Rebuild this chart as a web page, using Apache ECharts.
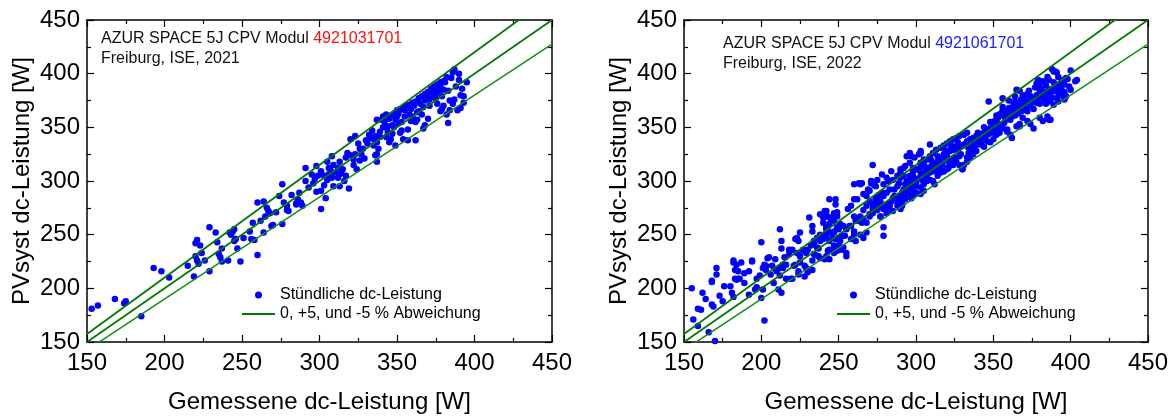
<!DOCTYPE html>
<html>
<head>
<meta charset="utf-8">
<script src="https://cdn.jsdelivr.net/npm/echarts@6/dist/echarts.min.js"></script>
<style>
  html, body { margin: 0; padding: 0; background: #fff; }
  #chart { width: 1173px; height: 419px; }
</style>
</head>
<body>
<div id="chart"></div>
<script>
// Axis range and tick spacing shared by both panels (W)
const axisMin = 150;
const axisMax = 450;
const axisStep = 50;

// Panel headers
const moduleLabel = 'AZUR SPACE 5J CPV Modul ';
const moduleIds = ['4921031701', '4921061701'];
const siteLabels = ['Freiburg, ISE, 2021', 'Freiburg, ISE, 2022'];

const scatterName = 'Stündliche dc-Leistung';
const bandName = '0, +5, und -5 % Abweichung';

// Reference lines: 0 %, +5 %, -5 % deviation (measured -> PVsyst)
const lineZero = [[150, 150], [450, 450]];
const linePlus5 = [[150, 157.5], [450, 472.5]];
const lineMinus5 = [[150, 142.5], [450, 427.5]];

// Hourly dc power 2021: [measured W, PVsyst W]
const hourly2021 = [
  [153,181],[157,184],[168,190],[174,186],[175,188],[185,174],[193,219],[198,216],
  [203,210],[215,221],[219,211],[220,242],[221,245],[220,230],[221,226],[222,223],[223,240],[224,233],
  [226,226],[229,257],[229,216],[233,252],[234,243],[235,232],[236,229],[237,225],[237,237],[241,226],
  [242,252],[243,250],[244,253],[245,255],[245,244],[246,246],[247,237],[249,225],[251,247],
  [255,253],[256,246],[257,261],[258,245],[260,231],[260,280],[262,263],[264,281],[264,252],[265,267],
  [266,275],[267,272],[268,270],[269,258],[270,259],[272,271],[274,286],[276,260],[277,280],[279,273],
  [280,272],[282,287],[285,279],[287,289],[276,297],[286,283],[288,280],[289,277],[285,278],[279,277],
  [291,312],[291,300],[295,306],[297,302],[298,314],[299,305],[301,309],[298,290],[301,291],[303,296],
  [301,274],[304,284],[305,301],[306,306],[307,310],[306,312],[308,303],[309,295],[308,323],[310,308],
  [312,312],[312,303],[313,295],[314,307],[315,311],[316,300],[319,293],[317,322],[318,326],[320,324],
  [322,320],[323,325],[324,311],[320,339],[323,342],[325,335],[326,330],[327,325],[328,330],[330,338],
  [331,335],[332,343],[333,340],[334,347],[335,339],[336,342],[337,336],[338,330],[337,325],[337,318],
  [336,324],[337,357],[339,346],[340,357],[341,350],[342,355],[343,341],[344,346],[345,358],[345,336],
  [346,339],[347,344],[348,350],[349,333],[349,357],[350,360],[351,363],[352,345],[353,355],[353,347],
  [354,339],[355,366],[357,338],[357,348],[358,362],[359,367],[360,360],[361,370],[362,355],[362,338],
  [363,357],[364,365],[365,372],[366,362],[367,349],[368,352],[368,375],[369,380],[370,358],[371,376],
  [372,383],[373,379],[374,385],[375,377],[376,372],[377,384],[378,388],[378,365],[379,367],[380,370],
  [380,385],[381,392],[382,397],[382,362],[383,354],[384,375],[385,396],[386,401],[386,372],[387,376],
  [387,404],[389,366],[390,394],[390,400],[391,368],[392,386],[393,373],[393,379],[395,392],
  [341,360],[343,362],[346,361],[348,363],[350,366],[352,367],[354,368],[356,370],[358,371],[360,373],
  [362,374],[364,377],[366,379],[368,381],[370,383],[372,386],[374,388],[376,390],[378,392],[380,393],
  [355,360],[359,356],[363,364],[367,369],[371,370],[375,381],[379,379],[383,384],[347,352],[351,354],
  [344,351],[339,341],[335,333],[329,321],[326,319],[322,315],[317,305],[313,318],[309,315],[305,318],
  [303,305],[296,298],[293,294],[384,366],[388,388],[391,380]
];

// Hourly dc power 2022: [measured W, PVsyst W]
const hourly2022 = [
  [155,200],[156,171],[159,181],[161,180],[159,165],[162,196],[164,190],[166,159],[168,206],[169,183],
  [168,185],[170,151],[171,219],[173,193],[175,188],[176,202],[171,213],[168,207],
  [181,196],[182,224],[184,222],[183,217],[185,216],[184,208],[185,209],[187,224],[189,214],[189,205],
  [186,209],[183,209],[182,226],[182,192],[180,202],
  [192,194],[194,225],[196,199],[197,209],[197,201],[192,216],[194,226],[200,243],[200,191],[201,219],
  [202,222],[203,221],[202,170],[199,212],[201,199],
  [204,228],[207,221],[208,205],[209,218],[211,199],[206,213],[210,216],[209,227],[205,229],[203,217],
  [212,255],[213,244],[213,237],[214,219],[215,229],[216,222],[218,236],[219,209],[220,209],[221,221],
  [222,246],[212,212],[213,196],[216,209],[212,219],[214,222],[218,232],[220,236],
  [224,216],[225,252],[227,236],[228,211],[229,219],[224,213],[225,224],[222,222],[223,233],[225,230],
  [227,235],[228,221],[230,215],[224,244],[223,247],
  [231,266],[233,253],[234,241],[235,231],[237,237],[238,228],[233,226],[233,217],[234,244],[233,258],
  [238,250],[236,238],[237,230],[234,232],[232,240],[230,236],[229,233],[236,247],[238,244],[238,269],
  [240,266],[241,249],[242,255],[244,283],[244,227],[247,238],[248,283],[249,271],[250,255],[251,244],
  [252,236],[253,249],[255,230],[242,272],[243,267],[246,266],[248,270],[249,267],[247,263],[240,261],
  [244,260],[242,257],[249,257],[247,253],[244,252],[242,249],[246,247],[248,246],[240,246],[241,227],
  [242,230],[249,235],[247,240],[243,235],
  [241,272],[242,267],[243,257],[245,264],[247,270],[248,278],[241,250],[247,252],[244,244],[249,246],
  [251,260],[253,258],[252,249],[250,240],[253,238],[255,233],[247,233],[244,236],[254,249],[255,255],
  [257,258],[256,274],[258,277],[260,267],[260,283],[262,264],[263,263],[260,250],[258,246],[261,244],
  [258,258],[260,253],[261,263],[262,283],[264,250],[266,264],[268,252],[265,298],[264,297],[266,288],
  [268,286],[269,292],[270,291],[271,298],[274,295],[272,315],[275,301],[264,267],[266,273],[268,261],
  [270,267],[272,270],[275,275],[276,280],[277,281],[278,277],[279,274],[266,247],[265,261],[270,281],
  [268,277],[274,284],[274,280],[276,287],[278,289],[279,297],[278,306],[279,257],[279,249],
  [270,269],[272,274],[274,283],[275,273],[277,267],[272,278],[276,283],[263,298],[260,297],[271,300],
  [273,296],
  [281,303],[282,300],[284,309],[285,301],[288,305],[290,308],[289,298],[286,292],[283,292],[281,289],
  [281,278],[282,274],[283,277],[284,281],[285,284],[286,286],[288,280],[290,286],[291,289],[292,292],
  [293,297],[294,300],[296,305],[298,309],[300,311],[303,314],[305,317],[307,320],[309,323],[311,326],
  [313,329],[316,331],[318,333],[320,335],[322,337],[324,339],[326,340],[328,342],[331,343],[333,345],
  [309,334],[303,326],[302,325],[297,323],[296,317],[293,314],[292,312],[290,311],[295,297],[297,295],
  [298,292],[300,289],[303,294],[305,297],[307,300],[309,301],[311,300],[312,297],[314,305],[316,308],
  [318,309],[320,311],[321,312],[322,317],[324,320],[326,318],[328,323],[330,311],[333,322],[334,326],
  [294,323],[296,326],[299,322],[303,328],[322,329],[324,329],[326,332],[309,308],[313,309],[316,314],
  [303,305],[300,301],[298,305],[292,305],[290,303],[288,295],[289,283],[291,277],[293,283],[295,288],
  [297,284],[299,289],[300,298],[303,317],[305,320],[298,312],
  [275,274],[277,267],[281,270],[285,272],[290,274],[292,283],[291,278],[288,277],[283,280],[279,286],
  [276,283],[273,278],[303,288],[305,291],[298,286],
  [301,302],[304,306],[306,309],[308,312],[310,314],[312,316],[314,318],[316,321],[318,322],[320,324],
  [317,316],[315,312],[311,309],[307,305],[304,301],[300,295],[297,300],[295,293],[293,288],[296,296],
  [299,299],[302,310],[306,313],[310,319],[314,323],[319,328],[323,333],[327,336],[329,325],[325,322],
  [321,318],[327,329],
  [388,404],[389,402],[391,401],[392,397],[385,397],[386,394],[380,391],[382,393],[395,393],[397,396],
  [399,388],[396,383],[394,380],[393,387],[391,377],[392,374],[389,371],[387,374],[385,377],[382,380],
  [380,383],[379,387],[378,380],[376,377],[374,379],[372,374],[369,371],[367,373],[367,384],[365,366],
  [364,374],[363,371],[362,368],[360,368],[359,365],[358,362],[356,366],[355,363],[354,362],[353,359],
  [352,357],[351,356],[350,353],[349,351],[348,349],[346,348],[345,346],[344,345],[341,343],[339,342],
  [337,340],[335,339],[333,337],[331,334],[328,332],[326,331],[324,329],[322,328],[320,326],[318,325],
  [387,357],[385,360],[382,356],[380,359],[376,349],[374,353],[372,356],[369,359],[367,353],[365,351],
  [362,340],[361,343],[359,346],[356,349],[354,345],[352,343],[350,339],[348,336],[346,337],[344,332],
  [341,334],[339,328],[337,325],[335,322],[333,318],[331,315],[328,315],[330,311],[324,315],[320,312],
  [318,309],[347,374],[356,377],
  [390,402],[400,403],[404,394],[403,393],[400,385],[397,379],[396,376],[386,357],[365,385],
  [395,394],[378,391],[379,394],[391,387],[390,389],[387,382],[383,376],[378,373],[374,370],[369,366],
  [365,363],[361,362],[359,348],[367,351],
  [332,333],[334,331],[336,335],[338,336],[340,338],[342,339],[343,341],[345,342],[347,344],[349,346],
  [351,348],[353,350],[355,352],[357,354],[358,357],[360,358],[362,360],[364,361],[366,363],[368,365],
  [370,367],[371,369],[373,371],[375,373],[377,375],[379,377],[381,378],[383,381],[384,383],[386,385],
  [388,386],[390,384],[392,390],[394,392],[396,390],[398,395],[370,377],[372,381],[368,376],[366,370],
  [363,366],[361,357],[357,360],[353,353],[350,345],[346,343],[342,335],[338,332],[336,330],[340,345],
  [344,350],[348,355],[352,361],[356,369],[360,375],[364,379],[368,369],[372,365],[376,367],[380,372],
  [384,372],[388,378],[392,382],[394,385],[389,392],[384,389],[381,386],[377,387],[373,384],[369,380]
];

const FONT = '"Liberation Sans", Arial, Helvetica, sans-serif';
const BLACK = '#000';
const DOT_BLUE = '#0000ff';
const LINE_GREEN = '#007a00';
const LINE_GREEN_LIGHT = '#109010';

const panels = [
  { left: 87, width: 465, data: hourly2021, idColor: '#ff1010', noteLeft: 101, noteTop: 29, legendLeft: 237 },
  { left: 684, width: 464, data: hourly2022, idColor: '#2020ff', noteLeft: 723, noteTop: 34, legendLeft: 832 }
];

function baseAxis(gridIndex, position, withLabels) {
  return {
    type: 'value',
    gridIndex: gridIndex,
    position: position,
    min: axisMin,
    max: axisMax,
    interval: axisStep,
    splitLine: { show: false },
    axisLine: { show: true, onZero: false, lineStyle: { color: BLACK, width: 1.5 } },
    axisTick: { show: true, inside: true, length: 7, lineStyle: { color: BLACK, width: 1.2 } },
    minorTick: { show: true, splitNumber: 2, length: 4, lineStyle: { color: BLACK, width: 1.2 } },
    axisLabel: { show: withLabels, fontSize: 24, color: BLACK, fontFamily: FONT },
    nameTextStyle: { fontSize: 24, color: BLACK, fontFamily: FONT }
  };
}

const grid = [], xAxis = [], yAxis = [], series = [], legend = [], title = [];

panels.forEach(function (p, i) {
  grid.push({ left: p.left, top: 20, width: p.width, height: 323, containLabel: false });

  const xb = baseAxis(i, 'bottom', true);
  xb.name = 'Gemessene dc-Leistung [W]';
  xb.nameLocation = 'middle';
  xb.nameGap = 48;
  xb.axisLabel.margin = 9;
  xAxis.push(xb);
  xAxis.push(baseAxis(i, 'top', false));

  const yl = baseAxis(i, 'left', true);
  yl.name = 'PVsyst dc-Leistung [W]';
  yl.nameLocation = 'middle';
  yl.nameGap = 53;
  yl.axisLabel.margin = 7;
  yAxis.push(yl);
  yAxis.push(baseAxis(i, 'right', false));

  const xi = i * 2, yi = i * 2;

  series.push({
    name: scatterName,
    type: 'scatter',
    xAxisIndex: xi, yAxisIndex: yi,
    symbol: 'circle',
    symbolSize: 6.5,
    itemStyle: { color: DOT_BLUE, opacity: 1 },
    data: p.data,
    z: 2
  });

  [[lineZero, LINE_GREEN, 1.8], [linePlus5, LINE_GREEN, 1.8], [lineMinus5, LINE_GREEN_LIGHT, 1.5]]
    .forEach(function (l) {
      series.push({
        name: bandName,
        type: 'line',
        xAxisIndex: xi, yAxisIndex: yi,
        symbol: 'none',
        clip: true,
        silent: true,
        lineStyle: { color: l[1], width: l[2] },
        itemStyle: { color: l[1] },
        data: l[0],
        z: 3
      });
    });

  legend.push({
    orient: 'vertical',
    left: p.legendLeft,
    top: 282,
    itemWidth: 33,
    itemHeight: 7,
    itemGap: 3,
    selectedMode: false,
    textStyle: { fontSize: 16, color: BLACK, fontFamily: FONT },
    data: [
      { name: scatterName, icon: 'circle' },
      { name: bandName, icon: 'path://M0,0H100V6H0Z' }
    ]
  });

  title.push({
    left: p.noteLeft,
    top: p.noteTop,
    padding: 0,
    text: '{a|' + moduleLabel + '}{b|' + moduleIds[i] + '}\n{a|' + siteLabels[i] + '}',
    textStyle: {
      fontWeight: 'normal',
      rich: {
        a: { fontSize: 16, lineHeight: 20, fontWeight: 'normal', color: '#111', fontFamily: FONT },
        b: { fontSize: 16, lineHeight: 20, fontWeight: 'normal', color: p.idColor, fontFamily: FONT }
      }
    }
  });
});

const chart = echarts.init(document.getElementById('chart'), null, { renderer: 'canvas' });
chart.setOption({
  animation: false,
  backgroundColor: '#fff',
  textStyle: { fontFamily: FONT },
  title: title,
  legend: legend,
  grid: grid,
  xAxis: xAxis,
  yAxis: yAxis,
  series: series
});
</script>
</body>
</html>
